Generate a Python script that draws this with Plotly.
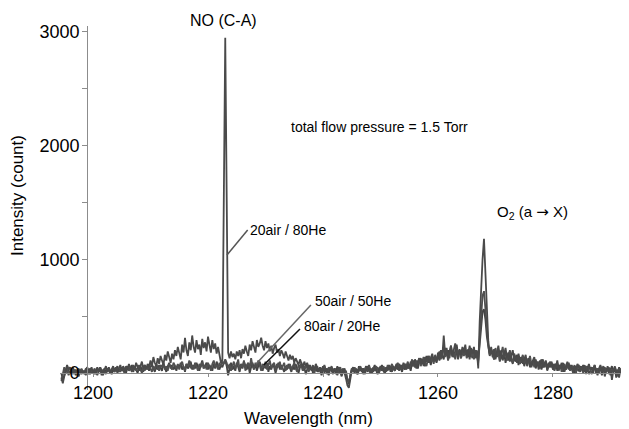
import numpy as np
import plotly.graph_objects as go

# Spectra, 0.25 nm steps starting at 1194.5 nm (20 values = 5 nm per row)
start_nm = 1194.5
step_nm = 0.25

air20_he80 = [
    -40, -90, -30, 20, 60, 30, 50, -10, 20, 0, 30, -20, 10, 30, -10, 20, 0, 40, 10, -10,
    20, 50, 0, 30, -10, 40, 10, 50, 20, -20, 30, 60, 10, 40, 0, 30, 60, 20, 50, 10,
    40, 70, 20, 50, 10, 60, 30, 80, 40, 20, 70, 30, 90, 50, 20, 60, 100, 40, 70, 30,
    80, 50, 110, 60, 140, 90, 60, 130, 80, 150, 100, 70, 160, 110, 190, 130, 90, 170, 120, 200,
    150, 230, 170, 120, 250, 180, 310, 200, 150, 270, 200, 330, 230, 180, 290, 210, 250, 160, 300, 220,
    270, 190, 320, 240, 180, 290, 210, 260, 170, 230, 150, 90, 110, 1600, 2950, 1550, 180, 130, 190, 140,
    170, 120, 190, 150, 200, 130, 210, 170, 240, 190, 150, 250, 200, 280, 220, 180, 290, 230, 260, 310,
    240, 200, 280, 220, 260, 190, 240, 170, 220, 250, 180, 210, 150, 200, 170, 130, 190, 140, 110, 160,
    120, 150, 90, 130, 100, 70, 120, 80, 50, 100, 60, 90, 40, 70, 20, 60, 30, 80, 40, 10,
    50, 20, 60, 0, 40, 10, -20, 30, 50, 0, 40, -10, 20, 50, 10, -30, 30, 0, -50, -110,
    -130, -40, 20, 40, 0, 30, -10, 20, 50, 10, 40, -10, 30, 60, 20, 0, 40, 10, 50, 20,
    -10, 30, 60, 20, 40, 0, 50, 20, 70, 30, 10, 60, 30, 80, 40, 20, 70, 40, 90, 50,
    30, 80, 50, 100, 60, 110, 70, 40, 100, 130, 80, 120, 60, 140, 100, 150, 90, 130, 170, 110,
    150, 100, 180, 120, 200, 140, 330, 160, 220, 130, 190, 240, 150, 200, 260, 170, 120, 210, 160, 230,
    180, 250, 150, 210, 120, 220, 170, 230, 130, 200, 40, 450, 750, 1000, 1180, 850, 500, 280, 170, 230,
    140, 210, 120, 190, 240, 150, 200, 110, 170, 220, 130, 180, 100, 160, 200, 120, 150, 90, 170, 110,
    140, 80, 120, 160, 70, 130, 90, 50, 110, 140, 60, 100, 30, 90, 120, 50, 80, 110, 40, 90,
    60, 100, 30, 80, 50, 110, 20, 70, 40, 90, 10, 60, 100, 30, 70, 40, 0, 60, 30, 80,
    40, 10, 60, 20, 70, -10, 40, 80, 30, 50, 0, 60, 20, -20, 40, 70, 10, 50, -30, 30,
    60, 10, 40, -60, 20, 50, 0, 30, -40, 40, 10, 60, -10, 30, 50, 0, 20, -30, 40, 10,
]

air50_he50 = [
    -70, 10, 50, 0, 30, -20, 20, 40, -10, 30, 0, 20, -30, 10, 40, 0, 20, -20, 30, 10,
    -10, 30, 0, 40, 10, -20, 20, 50, 0, 30, 10, -10, 40, 20, 0, 30, 50, 10, 40, 0,
    30, 10, 50, 20, 0, 40, 60, 20, 50, 10, 30, 60, 20, 40, 70, 30, 0, 50, 20, 60,
    30, 70, 40, 10, 60, 30, 80, 40, 20, 70, 50, 90, 30, 60, 20, 80, 50, 30, 90, 60,
    40, 80, 30, 70, 100, 50, 20, 80, 60, 110, 40, 70, 30, 90, 60, 20, 80, 50, 100, 40,
    70, 30, 90, 60, 20, 80, 110, 50, 70, 30, 90, 60, 100, 80, 120, 90, 40, 80, 20, 60,
    100, 40, 70, 120, 30, 80, 50, 110, 20, 70, 90, 40, 130, 60, 30, 90, 50, 110, 70, 20,
    80, 50, 100, 30, 70, 110, 40, 60, 90, 20, 80, 50, 100, 30, 60, 90, 20, 70, 40, 80,
    30, 60, 90, 40, 10, 70, 50, 90, 20, 60, 40, 80, 10, 50, 30, 70, 0, 40, 60, 20,
    50, 10, 40, 70, 20, -10, 50, 30, 60, 0, 40, 20, -20, 30, 50, 10, 40, -10, 20, -60,
    -80, 0, 40, 10, 50, 20, -10, 30, 60, 20, 40, 0, 50, 20, 70, 30, 10, 50, 20, 60,
    30, 0, 50, 20, 60, 40, 10, 70, 30, 50, 80, 40, 20, 60, 90, 50, 30, 70, 40, 80,
    60, 100, 40, 80, 120, 70, 50, 110, 80, 130, 60, 100, 140, 90, 60, 120, 150, 100, 130, 80,
    160, 110, 140, 190, 120, 170, 230, 140, 190, 110, 170, 210, 140, 180, 120, 220, 160, 190, 130, 210,
    150, 200, 130, 170, 220, 140, 190, 120, 200, 160, 90, 300, 520, 680, 720, 560, 380, 240, 160, 210,
    180, 120, 220, 150, 190, 110, 170, 230, 140, 180, 110, 160, 200, 130, 90, 170, 140, 100, 150, 80,
    120, 160, 90, 130, 60, 110, 150, 80, 100, 50, 120, 70, 100, 40, 90, 120, 60, 80, 30, 70,
    100, 50, 80, 20, 60, 90, 40, 70, 10, 60, 80, 30, 50, 90, 20, 60, 40, 70, 0, 50,
    70, 20, 50, 0, 40, 60, 10, 50, 30, -10, 40, 70, 20, 40, 0, 50, 30, 60, 10, 40,
    20, 50, -20, 30, 10, 60, 20, -30, 40, 10, 50, -10, 20, 40, -60, 10, 30, 0, 50, 20,
]

air80_he20 = [
    0, -60, -20, 40, 70, 20, 0, 30, 50, 10, -20, 20, 40, 0, 30, 10, -10, 30, 50, 20,
    40, 0, 20, -10, 30, 50, 10, 40, -20, 20, 40, 0, 30, 50, 20, -10, 30, 10, 40, 60,
    10, 40, 20, 60, 30, 0, 50, 20, 40, 70, 10, 50, 30, 0, 40, 60, 30, 10, 70, 40,
    60, 20, 50, 80, 40, 10, 60, 30, 70, 40, 20, 80, 50, 10, 60, 90, 40, 70, 30, 60,
    20, 70, 50, 90, 30, 60, 10, 80, 40, 60, 100, 30, 70, 40, 90, 50, 20, 70, 110, 40,
    60, 90, 30, 70, 50, 20, 80, 40, 100, 60, 30, 70, 50, 90, 110, 60, -20, 40, 90, 30,
    60, 20, 90, 50, 10, 70, 40, 100, 60, 30, 80, 0, 50, 90, 40, 70, 20, 60, 100, 50,
    20, 70, 40, 90, 10, 60, 30, 80, 50, 0, 60, 90, 30, 70, 40, 10, 60, 30, 80, 40,
    10, 60, 30, 80, 40, 0, 50, 70, 20, 50, -10, 40, 70, 30, 50, 0, 30, 60, 10, 40,
    20, -20, 30, 60, 10, 40, 0, 50, 20, -10, 40, 10, 60, 0, 30, -20, 20, 40, -10, -70,
    -100, -20, 30, 50, 10, 40, 0, 60, 20, 40, -10, 30, 60, 10, 50, 20, 0, 40, 70, 20,
    50, 10, 40, 70, 20, 0, 50, 30, 60, 10, 70, 40, 20, 60, 30, 80, 50, 10, 60, 30,
    80, 40, 60, 20, 90, 60, 120, 70, 40, 100, 130, 80, 110, 60, 150, 90, 120, 70, 140, 100,
    130, 90, 160, 110, 190, 150, 120, 220, 160, 200, 130, 240, 170, 140, 190, 250, 160, 200, 130, 180,
    220, 160, 200, 140, 240, 170, 130, 210, 150, 190, 110, 250, 420, 540, 560, 470, 320, 220, 150, 200,
    160, 120, 190, 140, 200, 100, 160, 120, 180, 90, 150, 110, 170, 130, 80, 140, 100, 160, 70, 120,
    90, 140, 60, 110, 80, 130, 50, 100, 70, 120, 40, 90, 60, 110, 30, 80, 50, 100, 20, 70,
    50, 90, 30, 60, 80, 20, 70, 40, 90, 10, 60, 30, 80, 50, 20, 70, 40, 0, 60, 30,
    20, 60, 30, 70, 10, 40, 60, -10, 30, 50, 20, 70, 0, 40, 10, 60, -20, 30, 50, 10,
    40, -10, 30, 60, 10, 40, -40, 20, 50, 0, 30, 60, 20, -20, 30, 50, 10, 40, -30, 20,
]

x_tick_vals = [1200, 1220, 1240, 1260, 1280]
y_tick_vals = [0, 1000, 2000, 3000]

series = [
    ("80air / 20He", air80_he20, "#444444"),
    ("50air / 50He", air50_he50, "#505050"),
    ("20air / 80He", air20_he80, "#4a4a4a"),
]

FONT = "Liberation Sans, Arial, sans-serif"

fig = go.Figure()
for name, vals, col in series:
    wl = start_nm + step_nm * np.arange(len(vals))
    fig.add_trace(go.Scatter(x=wl, y=vals, mode="lines", name=name,
                             line=dict(color=col, width=1.8), showlegend=False))

x_range = [1194.26, 1293.22]
y_range = [-149.6, 3052.7]
y_axis_at = 1198.96
yaxis_pos = (y_axis_at - x_range[0]) / (x_range[1] - x_range[0])
xaxis_pos = (0 - y_range[0]) / (y_range[1] - y_range[0])

# the page body adds an 8px offset, so margins are reduced by 8px on the left/top
fig.update_layout(
    width=629, height=429,
    margin=dict(l=52, r=8, t=18, b=47),
    paper_bgcolor="white", plot_bgcolor="white",
    font=dict(family=FONT, color="black", size=16),
    xaxis=dict(range=x_range, showgrid=False, zeroline=False, automargin=False,
               showline=True, linecolor="#8c8c8c", linewidth=1,
               anchor="free", position=xaxis_pos,
               tickvals=x_tick_vals, ticks="outside", ticklen=3, tickcolor="#8c8c8c",
               tickfont=dict(size=18)),
    yaxis=dict(range=y_range, showgrid=False, zeroline=False, automargin=False,
               showline=True, linecolor="#8c8c8c", linewidth=1,
               anchor="free", position=yaxis_pos,
               tickvals=y_tick_vals, ticks="outside", ticklen=5, tickcolor="#8c8c8c",
               ticklabelstandoff=-1,
               minor=dict(dtick=500, ticks="outside", ticklen=5, tickcolor="#8c8c8c"),
               tickfont=dict(size=18)),
)

# axis titles
fig.add_annotation(text="Wavelength (nm)", x=0.4376, y=-0.077, xref="paper", yref="paper",
                   showarrow=False, xanchor="center", yanchor="middle", font=dict(size=17))
fig.add_annotation(text="Intensity (count)", x=-0.0738, y=0.533, xref="paper", yref="paper",
                   showarrow=False, xanchor="center", yanchor="middle", textangle=-90,
                   font=dict(size=17))

# leader lines for the series labels
leaders = [
    (1223.3, 1038, 1226.9, 1258, "#555555"),
    (1228.35, 79, 1237.9, 598, "#666666"),
    (1229.7, 70, 1236.0, 387, "#111111"),
]
for x0, y0, x1, y1, c in leaders:
    fig.add_shape(type="line", x0=x0, y0=y0, x1=x1, y1=y1, xref="x", yref="y",
                  line=dict(color=c, width=1.5))

texts = [
    ("total flow pressure = 1.5 Torr", 1234.0, 2164, "left", 14),
    ("20air / 80He", 1226.96, 1258, "left", 14),
    ("50air / 50He", 1238.26, 633, "left", 14),
    ("80air / 20He", 1236.35, 413, "left", 14),
    ("O<sub>2</sub> (a <span style=\"font-family:DejaVu Sans\">\u2192</span> X)",
     1276.35, 1408, "center", 15),
]
for t, x, y, xa, s in texts:
    fig.add_annotation(text=t, x=x, y=y, xref="x", yref="y", showarrow=False,
                       xanchor=xa, yanchor="middle", font=dict(size=s, color="black"))

fig.add_annotation(text="NO (C-A)", x=1222.7, y=(390 - 20) / 364, xref="x", yref="paper",
                   showarrow=False, xanchor="center", yanchor="middle", font=dict(size=16))

fig.write_html("out.html")
